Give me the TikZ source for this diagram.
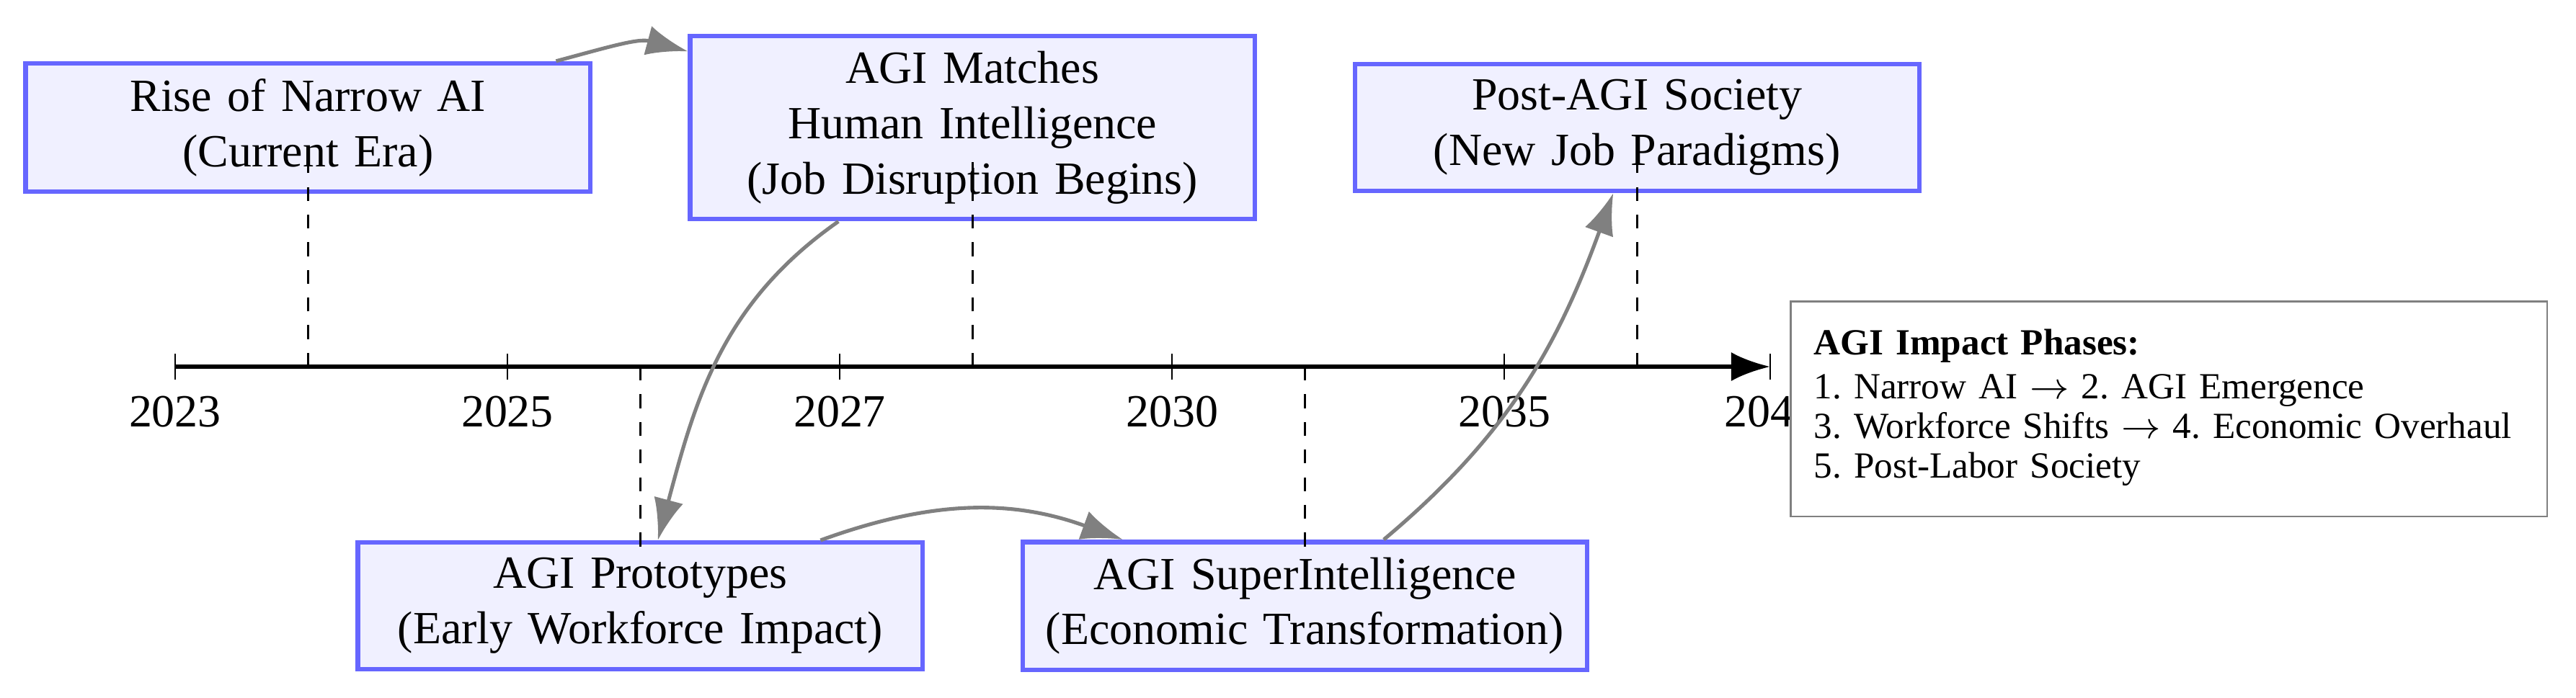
\documentclass[tikz,border=0pt]{standalone}
\usepackage{fontspec}
\setmainfont{Liberation Serif}
\usetikzlibrary{arrows.meta}
\definecolor{eventfill}{RGB}{240,240,255}
\definecolor{eventline}{RGB}{102,102,255}
\frenchspacing
\begin{document}
\begin{tikzpicture}[
  event/.style={draw=eventline, fill=eventfill, line width=1pt, text width=4.07cm, align=center},
  flow/.style={draw=gray, thick, -{Latex[length=9pt,width=6.5pt]}},
  marker/.style={dashed, black},
  yearlabel/.style={below},
  legendbox/.style={draw=gray, fill=white, text width=154pt, align=left, inner xsep=5pt, inner ysep=6pt, font=\fontsize{8}{8.6}\selectfont}
]
\useasboundingbox (-1.335,-2.522) rectangle (18.302,2.797);
\coordinate (start) at (0,0);
\coordinate (end) at (12.16,0);
\draw [line width=1pt, -{Latex[length=8.5pt,width=6.3pt]}] (start) -- (end);
\draw (0,-0.1) -- (0,0.1);
\draw (2.533,-0.1) -- (2.533,0.1);
\draw (5.066,-0.1) -- (5.066,0.1);
\draw (7.599,-0.1) -- (7.599,0.1);
\draw (10.132,-0.1) -- (10.132,0.1);
\draw (12.16,-0.1) -- (12.16,0.1);
\node [yearlabel] (y2023) at (0,-0.1) {2023};
\node [yearlabel] (y2025) at (2.533,-0.1) {2025};
\node [yearlabel] (y2027) at (5.066,-0.1) {2027};
\node [yearlabel] (y2030) at (7.599,-0.1) {2030};
\node [yearlabel] (y2035) at (10.132,-0.1) {2035};
\node [yearlabel] (y2040) at (12.16,-0.1) {2040};

\node [event] (narrow) at (1.013,1.824) {Rise of Narrow AI\\(Current Era)};
\node [event] (matches) at (6.079,1.824) {AGI Matches\\Human Intelligence\\(Job Disruption Begins)};
\node [event] (postagi) at (11.145,1.824) {Post-AGI Society\\(New Job Paradigms)};
\node [event] (proto) at (3.546,-1.824) {AGI Prototypes\\(Early Workforce Impact)};
\node [event] (superint) at (8.612,-1.824) {AGI SuperIntelligence\\(Economic Transformation)};

\draw [flow] (narrow) to[out=15,in=165] (matches);
\draw [flow] (matches) to[out=215,in=75] (proto);
\draw [flow] (proto) to[out=20,in=160] (superint);
\draw [flow] (superint) to[out=40,in=250] (postagi);

\coordinate (t1) at (1.013,0);
\coordinate (t2) at (3.546,0);
\coordinate (t3) at (6.079,0);
\coordinate (t4) at (8.612,0);
\coordinate (t5) at (11.145,0);
\coordinate (m1) at (1.013,1.56);
\coordinate (m2) at (3.546,-1.39);
\coordinate (m3) at (6.079,1.56);
\coordinate (m4) at (8.612,-1.39);
\coordinate (m5) at (11.145,1.56);
\draw [marker] (t1) -- (m1);
\draw [marker] (t2) -- (m2);
\draw [marker] (t3) -- (m3);
\draw [marker] (t4) -- (m4);
\draw [marker] (t5) -- (m5);

\node [legendbox, anchor=north west] (legend) at (12.31,0.505) {\textbf{AGI Impact Phases:}\\[1pt]
1. Narrow AI $\rightarrow$ 2. AGI Emergence\\
3. Workforce Shifts $\rightarrow$ 4. Economic Overhaul\\
5. Post-Labor Society\\[-6.3pt]\mbox{}};
\end{tikzpicture}
\end{document}
